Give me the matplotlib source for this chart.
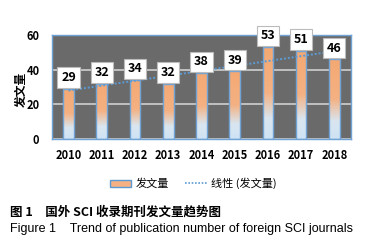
import matplotlib
matplotlib.use("Agg")
import matplotlib.pyplot as plt
import numpy as np
from matplotlib.colors import LinearSegmentedColormap
from matplotlib.lines import Line2D
from matplotlib.patches import Patch

plt.rcParams['font.family'] = ['Liberation Sans Narrow', 'Noto Sans CJK SC', 'DejaVu Sans']

years = ['2010', '2011', '2012', '2013', '2014', '2015', '2016', '2017', '2018']
counts = [29, 32, 34, 32, 38, 39, 53, 51, 46]
series_name = '发文量'
trend_name = '线性 (发文量)'
yticks = [0, 20, 40, 60]
caption_cn = '图 1\u3000国外 SCI 收录期刊发文量趋势图'
caption_en = 'Figure 1    Trend of publication number of foreign SCI journals'

fig = plt.figure(figsize=(3.79, 2.52), dpi=100)
fig.set_facecolor('white')
ax = fig.add_axes([0.137, 0.448, 0.789, 0.413])
ax.set_facecolor('#6a6a6a')

x = np.arange(len(years))
width = 0.32

# gradient: light blue at bottom -> orange from ~45% of bar height
cmap = LinearSegmentedColormap.from_list('bar', [(0, '#cfe3f5'), (0.22, '#d9e6f0'),
                                                 (0.5, '#f4b183'), (1, '#f4a973')])
grad = np.linspace(0, 1, 128).reshape(-1, 1)

bars = ax.bar(x, counts, width=width, color='none', edgecolor='#6fa3d6', linewidth=1.0, zorder=3)
for b in bars:
    x0, y0 = b.get_x(), b.get_y()
    w, h = b.get_width(), b.get_height()
    im = ax.imshow(grad, cmap=cmap, aspect='auto', origin='lower',
                   extent=[x0, x0 + w, y0, y0 + h], zorder=2)
    im.set_clip_path(b)

# linear trend
k, c = np.polyfit(x, counts, 1)
ax.plot(x, k * x + c, color='#5b9bd5', linestyle=(0, (1, 1)), linewidth=1.4, zorder=4)

for xi, v in zip(x, counts):
    ax.text(xi, v + 6.5, str(v), ha='center', va='center', fontsize=9, fontweight='bold',
            color='black', zorder=5,
            bbox=dict(boxstyle='square,pad=0.3', facecolor='white', edgecolor='#bbbbbb', linewidth=0.8))

ax.set_xlim(-0.5, len(years) - 0.5)
ax.set_ylim(0, 60)
ax.set_yticks(yticks)
ax.set_yticklabels([str(t) for t in yticks], fontsize=8, fontweight='bold')
ax.set_xticks(x)
ax.set_xticklabels(years, fontsize=8, fontweight='bold')
ax.tick_params(length=0, pad=7)
ax.tick_params(axis='y', pad=9)
ax.yaxis.grid(True, color='#d0d0d0', linewidth=1.2, zorder=1)
ax.set_axisbelow(True)
for s in ax.spines.values():
    s.set_color('#6fa3d6')
    s.set_linewidth(1.0)

fig.text(0.055, 0.645, series_name, rotation=90, ha='center', va='center', fontsize=8.5,
         fontweight='bold', family=['Noto Sans CJK SC', 'DejaVu Sans'])

handles = [Patch(facecolor='#f4b183', edgecolor='#5b9bd5', linewidth=1.0),
           Line2D([0], [0], color='#5b9bd5', linestyle=(0, (1, 1)), linewidth=1.2)]
leg = fig.legend(handles, [series_name, trend_name], loc='center', bbox_to_anchor=(0.51, 0.272),
                 ncol=2, frameon=False, handlelength=1.9, handleheight=0.6,
                 columnspacing=1.5, handletextpad=0.4,
                 prop={'family': ['Noto Sans CJK SC', 'DejaVu Sans'], 'size': 8})

fig.text(0.026, 0.158, caption_cn, fontsize=9, fontweight='bold', ha='left', va='center',
         family=['Noto Sans CJK SC', 'DejaVu Sans'])
fig.text(0.026, 0.093, caption_en, fontsize=9, ha='left', va='center',
         family=['Liberation Sans', 'DejaVu Sans'])

fig.savefig('out.png', dpi=100, facecolor='white')
